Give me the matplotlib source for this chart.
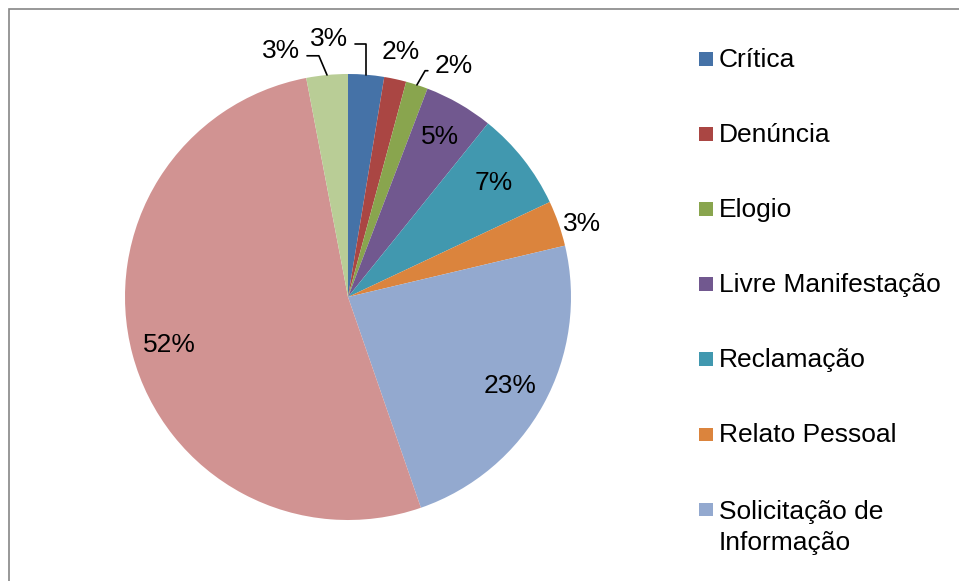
import matplotlib
matplotlib.use('Agg')
import matplotlib.pyplot as plt
from matplotlib.patches import Rectangle
import numpy as np

plt.rcParams['font.family'] = ['Liberation Sans', 'DejaVu Sans']

# categorias visíveis na legenda (as duas últimas fatias ficaram fora da legenda)
legend_labels = ['Crítica', 'Denúncia', 'Elogio', 'Livre Manifestação',
                 'Reclamação', 'Relato Pessoal', 'Solicitação de\nInformação']
# percentuais das 9 fatias, no sentido horário a partir do topo
values = [2.6, 1.6, 1.6, 5.0, 7.2, 3.3, 23.4, 52.3, 3.0]
colors = ['#4572A7', '#AA4643', '#89A54E', '#71588F', '#4198AF',
          '#DB843D', '#93A9CF', '#D19392', '#B9CD96']

# rótulos externos: índice da fatia -> deslocamento (px), relpos da linha, ângulo B
outside = {0: ((-37, 36), (1.0, 0.3), 90),
           1: ((5, 27), None, None),
           2: ((37, 19), (0.0, 0.3), 60),
           5: ((24, -1), None, None),
           8: ((-46, 24), (1.0, 0.3), 113)}

W, H = 959, 581
FS = 19
fig = plt.figure(figsize=(W / 100, H / 100), dpi=100)

# moldura do gráfico (cortada à direita e embaixo)
fig.patches.append(Rectangle((8.5 / W, -0.1), 1.2, 1.1 - 9.5 / H,
                             transform=fig.transFigure, fill=False,
                             edgecolor='#868686', linewidth=1.2))

cx, cy, r = 348, 581 - 297, 223
ax = fig.add_axes([(cx - r) / W, (cy - r) / H, 2 * r / W, 2 * r / H])

wedges, _ = ax.pie(values, colors=colors, startangle=90, counterclock=False,
                   radius=1, wedgeprops=dict(linewidth=0))
ax.set_xlim(-1, 1)
ax.set_ylim(-1, 1)
ax.set_aspect('equal')
ax.axis('off')

total = sum(values)
for i, w in enumerate(wedges):
    ang = np.deg2rad((w.theta1 + w.theta2) / 2)
    txt = '%.0f%%' % (values[i] / total * 100)
    if i in outside:
        off, rel, angB = outside[i]
        xy = (np.cos(ang), np.sin(ang))
        if rel is None:
            ax.annotate(txt, xy=xy, xytext=off, textcoords='offset pixels',
                        ha='center', va='center', fontsize=FS)
        else:
            ax.annotate(txt, xy=xy, xytext=off, textcoords='offset pixels',
                        ha='center', va='center', fontsize=FS,
                        arrowprops=dict(arrowstyle='-', color='black', lw=1.2,
                                        relpos=rel, shrinkA=3, shrinkB=0,
                                        connectionstyle='angle,angleA=0,angleB=%d,rad=0' % angB))
    else:
        ax.text(0.83 * np.cos(ang), 0.83 * np.sin(ang), txt,
                ha='center', va='center', fontsize=FS)

# legenda desenhada à mão (quadrado alinhado à primeira linha do texto)
for i, lab in enumerate(legend_labels):
    base = 67 + 75.1 * i
    nlines = lab.count('\n')
    fig.patches.append(Rectangle((699 / W, 1 - (base - 1.5) / H), 13.5 / W, 13.5 / H,
                                 transform=fig.transFigure,
                                 facecolor=wedges[i].get_facecolor(), edgecolor='none'))
    fig.text(719 / W, 1 - (base + 32 * nlines) / H, lab, fontsize=FS,
             ha='left', va='baseline', linespacing=1.35)

fig.savefig('out.png', dpi=100)
